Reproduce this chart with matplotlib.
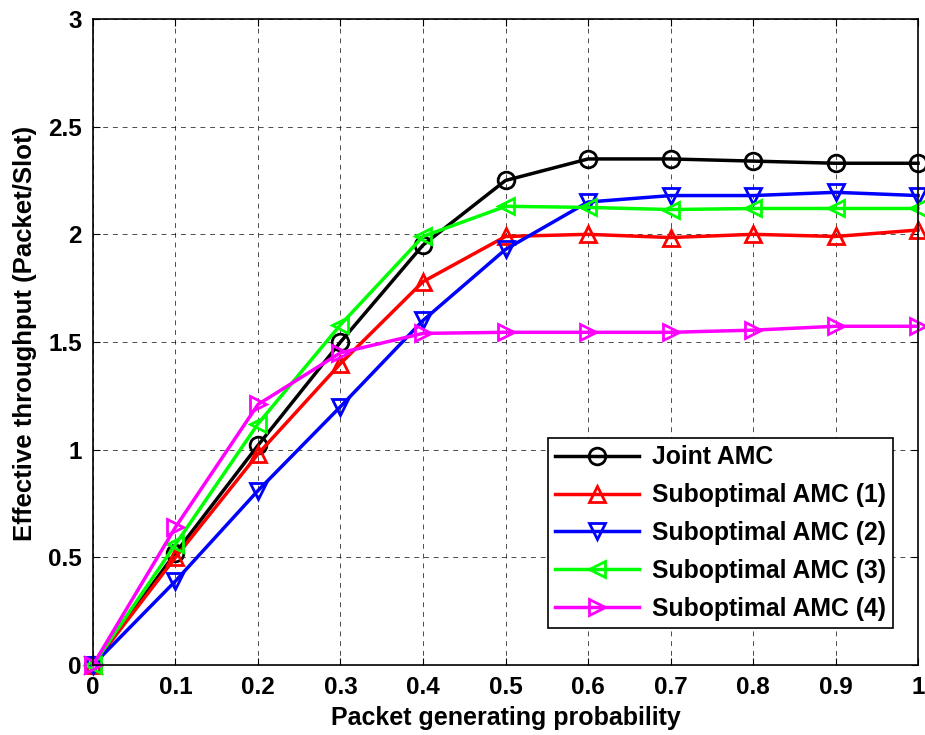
import numpy as np
import matplotlib.pyplot as plt

plt.rcParams['font.family'] = ['Liberation Sans', 'DejaVu Sans']
plt.rcParams['font.weight'] = 'bold'

# Data
p = [0, 0.1, 0.2, 0.3, 0.4, 0.5, 0.6, 0.7, 0.8, 0.9, 1.0]
joint = [0, 0.52, 1.02, 1.50, 1.95, 2.25, 2.35, 2.35, 2.34, 2.33, 2.33]
sub1 = [0, 0.50, 0.98, 1.40, 1.78, 1.99, 2.00, 1.985, 2.00, 1.99, 2.02]
sub2 = [0, 0.39, 0.81, 1.20, 1.60, 1.93, 2.15, 2.18, 2.18, 2.195, 2.18]
sub3 = [0, 0.56, 1.12, 1.58, 1.99, 2.13, 2.125, 2.115, 2.12, 2.12, 2.12]
sub4 = [0, 0.64, 1.21, 1.45, 1.54, 1.545, 1.545, 1.545, 1.555, 1.573, 1.573]

series = [
    (joint, 'Joint AMC', 'k', 'o'),
    (sub1, 'Suboptimal AMC (1)', 'r', '^'),
    (sub2, 'Suboptimal AMC (2)', 'b', 'v'),
    (sub3, 'Suboptimal AMC (3)', '#00ff00', '<'),
    (sub4, 'Suboptimal AMC (4)', '#ff00ff', '>'),
]

fig = plt.figure(figsize=(9.25, 7.35), dpi=100)
ax = fig.add_axes([0.1005, 0.0952, 0.892, 0.879])

for y, lab, c, m in series:
    ax.plot(p, y, color=c, marker=m, markersize=12, markerfacecolor='none',
            markeredgewidth=2, linewidth=2.5, label=lab, clip_on=False)

ax.set_xlim(0, 1)
ax.set_ylim(0, 3)
ax.set_xticks(np.arange(0, 1.01, 0.1))
ax.set_xticklabels(['0', '0.1', '0.2', '0.3', '0.4', '0.5', '0.6', '0.7', '0.8', '0.9', '1'])
ax.set_yticks(np.arange(0, 3.01, 0.5))
ax.set_yticklabels(['0', '0.5', '1', '1.5', '2', '2.5', '3'])
ax.tick_params(direction='in', labelsize=17.5, top=True, right=True, length=5, pad=8)
ax.grid(True, linestyle=(0, (5, 5)), color='black', linewidth=0.7, alpha=0.7)
for s in ax.spines.values():
    s.set_linewidth(1.2)

ax.set_xlabel('Packet generating probability', fontsize=18, fontweight='bold', labelpad=5)
ax.set_ylabel('Effective throughput (Packet/Slot)', fontsize=18.5, fontweight='bold')
ax.yaxis.set_label_coords(-0.068, 0.514)

leg = ax.legend(loc='lower right', bbox_to_anchor=(0.97, 0.057), fontsize=17.8,
                fancybox=False, framealpha=1, edgecolor='black', handlelength=3.4,
                handletextpad=0.5, borderpad=0.3, labelspacing=0.56, borderaxespad=0)
leg.get_frame().set_linewidth(1.2)

fig.savefig('out.png', dpi=100)
